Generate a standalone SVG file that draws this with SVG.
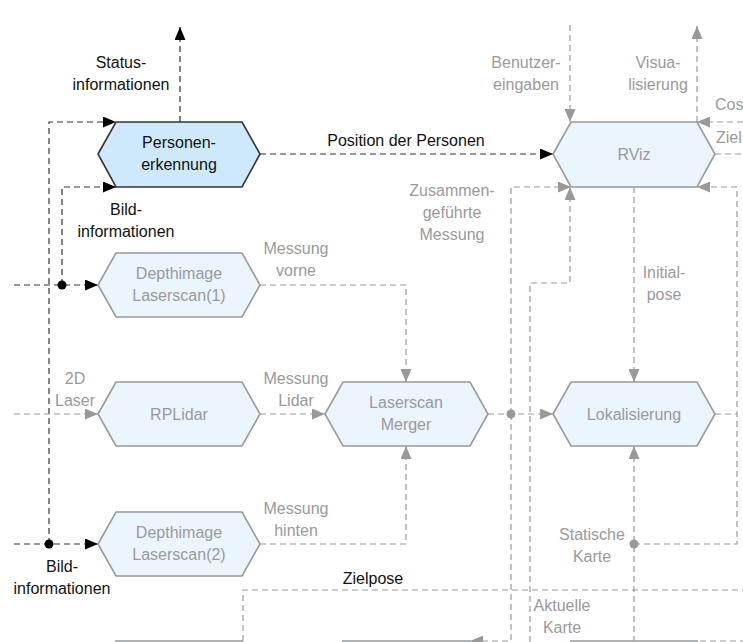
<svg xmlns="http://www.w3.org/2000/svg" width="743" height="642" viewBox="0 0 743 642">
<style>
text{font-family:"Liberation Sans",Arial,sans-serif;font-size:16px;text-anchor:middle}
.g{fill:#9a9a9a}
.k{fill:#111}
.hex{fill:#eaf5fe;stroke:#999;stroke-width:1.6}
.hexk{fill:#cde9fb;stroke:#333;stroke-width:1.6}
.lg{fill:none;stroke:#9a9a9a;stroke-width:1.2;stroke-dasharray:6,4}
.lk{fill:none;stroke:#333;stroke-width:1.2;stroke-dasharray:6,4}
.ag{marker-end:url(#ag)}
.ak{marker-end:url(#ak)}
</style>
<defs>
<marker id="ak" viewBox="0 0 13 11" refX="13" refY="5.5" markerWidth="13" markerHeight="11" markerUnits="userSpaceOnUse" orient="auto"><path d="M0,0L13,5.5L0,11z" fill="#000"/></marker>
<marker id="ag" viewBox="0 0 13 11" refX="13" refY="5.5" markerWidth="13" markerHeight="11" markerUnits="userSpaceOnUse" orient="auto"><path d="M0,0L13,5.5L0,11z" fill="#999"/></marker>
</defs>
<g id="connectors">
<path class="lk ak" d="M180,122V27"/>
<path class="lk ak" d="M49,544V122H116"/>
<path class="lk ak" d="M62,285V187H116"/>
<path class="lk ak" d="M14,285H98"/>
<path class="lk ak" d="M14,544H98"/>
<path class="lk ak" d="M260,154H553"/>
<circle cx="62" cy="285" r="4.5" fill="#000"/>
<circle cx="49" cy="544" r="4.5" fill="#000"/>
<path class="lg ag" d="M14,414H98"/>
<path class="lg ag" d="M260,414H325"/>
<path class="lg ag" d="M260,285H406V382"/>
<path class="lg ag" d="M260,544H406V446"/>
<path class="lg ag" d="M488,414H553"/>
<path class="lg ag" d="M511,414V187H571"/>
<path class="lg ag" d="M511,414V641H470"/>
<circle cx="511" cy="414" r="4.5" fill="#999"/>
<path class="lg ag" d="M530,642V283H570V187"/>
<path class="lg ag" d="M570,25V122"/>
<path class="lg ag" d="M697,122V26"/>
<path class="lg ag" d="M743,122H697"/>
<path class="lg" d="M715,154H743"/>
<path class="lg ag" d="M634,187V382"/>
<path class="lg ag" d="M634,642V446"/>
<path class="lg ag" d="M634,544H737V187H697"/>
<circle cx="634" cy="544" r="4.5" fill="#999"/>
<path class="lg" d="M715,414H737"/>
<path class="lg" d="M243,641V590H743"/>
<path class="lg" d="M700,641H743"/>
</g>
<g id="labels">
<text class="k" x="121" y="68">Status-</text>
<text class="k" x="121" y="90">informationen</text>
<text class="k" x="126" y="215">Bild-</text>
<text class="k" x="126" y="237">informationen</text>
<text class="k" x="62" y="572">Bild-</text>
<text class="k" x="62" y="594">informationen</text>
<text class="k" x="406" y="146">Position der Personen</text>
<text class="k" x="373" y="584">Zielpose</text>
<text class="g" x="452" y="196">Zusammen-</text>
<text class="g" x="452" y="218">geführte</text>
<text class="g" x="452" y="240">Messung</text>
<text class="g" x="526" y="68">Benutzer-</text>
<text class="g" x="526" y="90">eingaben</text>
<text class="g" x="658" y="68">Visua-</text>
<text class="g" x="658" y="90">lisierung</text>
<text class="g" x="715" y="110" style="text-anchor:start">Cos</text>
<text class="g" x="716" y="143" style="text-anchor:start">Ziel</text>
<text class="g" x="296" y="254">Messung</text>
<text class="g" x="296" y="276">vorne</text>
<text class="g" x="296" y="384">Messung</text>
<text class="g" x="296" y="406">Lidar</text>
<text class="g" x="296" y="514">Messung</text>
<text class="g" x="296" y="536">hinten</text>
<text class="g" x="75" y="384">2D</text>
<text class="g" x="75" y="406">Laser</text>
<text class="g" x="664" y="278">Initial-</text>
<text class="g" x="664" y="300">pose</text>
<text class="g" x="592" y="540">Statische</text>
<text class="g" x="592" y="562">Karte</text>
<text class="g" x="562" y="611">Aktuelle</text>
<text class="g" x="562" y="633">Karte</text>
</g>
<g id="personenerkennung">
<polygon class="hexk" points="98,154 116,122 242,122 260,154 242,187 116,187"/>
<text class="k" x="179" y="148">Personen-</text>
<text class="k" x="179" y="170">erkennung</text>
</g>
<g id="depth1">
<polygon class="hex" points="98,285 116,253 242,253 260,285 242,317 116,317"/>
<text class="g" x="179" y="279">Depthimage</text>
<text class="g" x="179" y="301">Laserscan(1)</text>
</g>
<g id="rplidar">
<polygon class="hex" points="98,414 116,382 242,382 260,414 242,446 116,446"/>
<text class="g" x="179" y="420">RPLidar</text>
</g>
<g id="depth2">
<polygon class="hex" points="98,544 116,512 242,512 260,544 242,576 116,576"/>
<text class="g" x="179" y="538">Depthimage</text>
<text class="g" x="179" y="560">Laserscan(2)</text>
</g>
<g id="merger">
<polygon class="hex" points="325,414 343,382 470,382 488,414 470,446 343,446"/>
<text class="g" x="406" y="408">Laserscan</text>
<text class="g" x="406" y="430">Merger</text>
</g>
<g id="lokalisierung">
<polygon class="hex" points="553,414 571,382 697,382 715,414 697,446 571,446"/>
<text class="g" x="634" y="420">Lokalisierung</text>
</g>
<g id="rviz">
<polygon class="hex" points="553,154 571,122 697,122 715,154 697,187 571,187"/>
<text class="g" x="634" y="160">RViz</text>
</g>
<g id="bottom1"><polygon class="hex" points="98,673 116,641 242,641 260,673"/></g>
<g id="bottom2"><polygon class="hex" points="325,673 343,641 470,641 488,673"/></g>
<g id="bottom3"><polygon class="hex" points="553,673 571,641 697,641 715,673"/></g>
</svg>
